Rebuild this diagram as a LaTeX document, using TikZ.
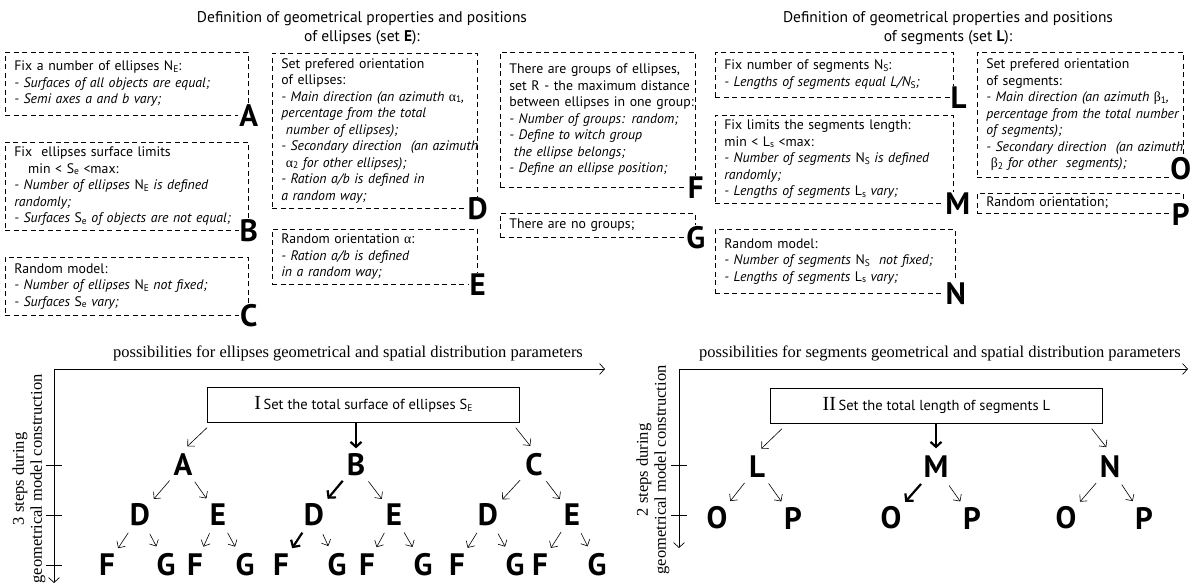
\documentclass[tikz,border=0pt]{standalone}
\usepackage{fontspec}
\setmainfont{PT Sans}
\newfontfamily\timesfont{Liberation Serif}
\usetikzlibrary{arrows.meta,positioning}

\newcommand\boxfont{\fontsize{13.8}{16.5}\selectfont}
\newcommand\lblfont{\fontsize{31}{31}\selectfont\bfseries}
\newcommand\headfont{\fontsize{15.5}{19}\selectfont}
\newcommand\serfont{\timesfont\fontsize{16.5}{18}\selectfont}
\newcommand\lowsc[1]{\raisebox{-0.25ex}{\fontsize{9.5}{9.5}\selectfont\upshape #1}}
\newcommand\grk[1]{{\timesfont\upshape #1}}
\newcommand\boxtext[1]{\begin{tabular}{@{}l@{}}#1\end{tabular}}

\begin{document}
\begin{tikzpicture}[x=1pt, y=-1pt,
  txtbox/.style={draw, dash pattern=on 5pt off 3.5pt, line width=0.7pt, anchor=north west, align=left, inner xsep=9pt, inner ysep=2pt, font=\boxfont},
  boxlbl/.style={fill=white, inner sep=1pt, font=\lblfont},
  treelbl/.style={circle, minimum size=28pt, inner sep=0pt, font=\lblfont},
  thinarr/.style={-{Straight Barb[length=5pt,width=10pt]}, line width=0.6pt, shorten >=6pt, shorten <=6pt},
  thickarr/.style={-{Straight Barb[length=5pt,width=11pt]}, line width=2.2pt, shorten >=6pt, shorten <=6pt},
  axisarr/.style={-{Straight Barb[length=5pt,width=11pt]}, line width=0.7pt},
  mainbox/.style={draw, line width=0.7pt, anchor=north west, minimum height=35pt, inner sep=0pt}]
\useasboundingbox (0,0) rectangle (1192,585);

% Titles of the two sets
\node[align=center, font=\headfont] (ttlE) at (362,28) {Definition of geometrical properties and positions\\of ellipses (set \textbf{E}):};
\node[align=center, font=\headfont] (ttlL) at (948,28) {Definition of geometrical properties and positions\\of segments (set \textbf{L}):};

% Boxes for the ellipses
\node[txtbox, text width=225pt, minimum height=63pt] (boxA) at (5,52) {\boxtext{Fix a number of ellipses N\lowsc{E}:\\\textit{- Surfaces of all objects are equal;}\\\textit{- Semi axes a and b vary;}}};
\node[boxlbl] (lA) at (boxA.south east) {A};
\node[txtbox, text width=225pt, minimum height=88pt] (boxB) at (5,142) {\boxtext{Fix\ \ ellipses surface limits\\\ \ \ min < S\lowsc{e} <max:\\\textit{- Number of ellipses} N\lowsc{E} \textit{is defined}\\\textit{randomly;}\\\textit{- Surfaces} S\lowsc{e} \textit{of objects are not equal;}}};
\node[boxlbl] (lB) at (boxB.south east) {B};
\node[txtbox, text width=225pt, minimum height=58pt] (boxC) at (5,257) {\boxtext{Random model:\\\textit{- Number of ellipses} N\lowsc{E}\ \textit{not fixed;}\\\textit{- Surfaces} S\lowsc{e} \textit{vary;}}};
\node[boxlbl] (lC) at (boxC.south east) {C};

\node[txtbox, text width=187pt, minimum height=155pt] (boxD) at (272,53) {\boxtext{Set prefered orientation\\of ellipses:\\\textit{- Main direction (an azimuth} \grk{α}\lowsc{1}\textit{,}\\\textit{percentage from the total}\\\textit{\ number of ellipses);}\\\textit{- Secondary direction\ \ (an azimuth}\\\textit{\ \grk{α}\lowsc{2} for other ellipses);}\\\textit{- Ration a/b is defined in}\\\textit{a random way;}}};
\node[boxlbl] (lD) at (boxD.south east) {D};
\node[txtbox, text width=187pt, minimum height=55pt] (boxE) at (272,229) {\boxtext{Random orientation \grk{α}:\\\textit{- Ration a/b is defined}\\\textit{in a random way;}}};
\node[boxlbl] (lE) at (boxE.south east) {E};

\node[txtbox, text width=177pt, minimum height=135pt] (boxF) at (500,52) {\boxtext{There are groups of ellipses,\\set R - the maximum distance\\between ellipses in one group:\\\textit{- Number of groups: random;}\\\textit{- Define to witch group}\\\textit{\ the ellipse belongs;}\\\textit{- Define an ellipse position;}}};
\node[boxlbl] (lF) at (boxF.south east) {F};
\node[txtbox, text width=177pt, minimum height=24pt] (boxG) at (500,213) {\boxtext{There are no groups;}};
\node[boxlbl] (lG) at (boxG.south east) {G};

% Boxes for the segments
\node[txtbox, text width=220pt, minimum height=45pt] (boxL) at (715,52) {\boxtext{Fix number of segments N\lowsc{S}:\\\textit{- Lengths of segments equal L/N\lowsc{S};}}};
\node[boxlbl] (lL) at ([xshift=5pt]boxL.south east) {L};
\node[txtbox, text width=220pt, minimum height=88pt] (boxM) at (715,115) {\boxtext{Fix limits the segments length:\\min < L\lowsc{s} <max:\\\textit{- Number of segments} N\lowsc{S} \textit{is defined}\\\textit{randomly;}\\\textit{- Lengths of segments} L\lowsc{s} \textit{vary;}}};
\node[boxlbl] (lM) at ([xshift=4pt]boxM.south east) {M};
\node[txtbox, text width=222pt, minimum height=64pt] (boxN) at (715,229) {\boxtext{Random model:\\\textit{- Number of segments} N\lowsc{S}\ \ \textit{not fixed;}\\\textit{- Lengths of segments} L\lowsc{s} \textit{vary;}}};
\node[boxlbl] (lN) at (boxN.south east) {N};

\node[txtbox, text width=188pt, minimum height=125pt] (boxO) at (977,52) {\boxtext{Set prefered orientation\\of segments:\\\textit{- Main direction (an azimuth} \grk{β}\lowsc{1}\textit{,}\\\textit{percentage from the total number}\\\textit{of segments);}\\\textit{- Secondary direction\ \ (an azimuth}\\\textit{\ \grk{β}\lowsc{2} for other\ \ segments);}}};
\node[boxlbl] (lO) at ([xshift=-3pt,yshift=9pt]boxO.south east) {O};
\node[txtbox, text width=188pt, minimum height=20pt] (boxP) at (977,193) {\boxtext{Random orientation;}};
\node[boxlbl] (lP) at ([xshift=-3pt]boxP.south east) {P};

% Left axes
\coordinate (oE) at (54,369);
\coordinate (xE) at (605,369);
\coordinate (yE) at (54,583);
\draw[axisarr] (oE) -- (xE);
\draw[axisarr] (oE) -- (yE);
\foreach \ty in {465,515,565} \draw[line width=0.7pt] (46,\ty) -- (62,\ty);
\node[font=\serfont] (axE) at (348,353) {possibilities for ellipses geometrical and spatial distribution parameters};
\node[rotate=90, align=center, font=\serfont] (stE) at (29,479) {3 steps during\\geometrical model construction};

% Right axes
\coordinate (oL) at (679,369);
\coordinate (xL) at (1188,369);
\coordinate (yL) at (679,548);
\draw[axisarr] (oL) -- (xL);
\draw[axisarr] (oL) -- (yL);
\foreach \ty in {465,515} \draw[line width=0.7pt] (671,\ty) -- (687,\ty);
\node[font=\serfont] (axL) at (940,353) {possibilities for segments geometrical and spatial distribution parameters};
\node[rotate=90, align=center, font=\serfont] (stL) at (653,470) {2 steps during\\geometrical model construction};

% Tree of the ellipses
\node[mainbox, minimum width=312pt] (boxI) at (207,387) {{\timesfont\fontsize{20}{20}\selectfont I} {\fontsize{14.5}{14.5}\selectfont Set the total surface of ellipses S\lowsc{E}}};
\node[treelbl] (tA) at (183,465) {A};
\node[treelbl] (tB) at (356,465) {B};
\node[treelbl] (tC) at (534,465) {C};
\node[treelbl] (tD1) at (140,515) {D};
\node[treelbl] (tE1) at (218,515) {E};
\node[treelbl] (tD2) at (314,515) {D};
\node[treelbl] (tE2) at (394,515) {E};
\node[treelbl] (tD3) at (488,515) {D};
\node[treelbl] (tE3) at (572,515) {E};
\node[treelbl] (tF1) at (107,565) {F};
\node[treelbl] (tG1) at (166,565) {G};
\node[treelbl] (tF2) at (195,565) {F};
\node[treelbl] (tG2) at (245,565) {G};
\node[treelbl] (tF3) at (281,565) {F};
\node[treelbl] (tG3) at (337,565) {G};
\node[treelbl] (tF4) at (367,565) {F};
\node[treelbl] (tG4) at (423,565) {G};
\node[treelbl] (tF5) at (457,565) {F};
\node[treelbl] (tG5) at (515,565) {G};
\node[treelbl] (tF6) at (540,565) {F};
\node[treelbl] (tG6) at (597,565) {G};

\draw[thinarr, shorten <=0pt] ([yshift=-5pt]boxI.south west) -- (tA.north);
\draw[thickarr, shorten <=0pt, shorten >=2pt] (boxI.south -| tB) -- (tB.north);
\draw[thinarr, shorten <=0pt] ([xshift=-4pt,yshift=-5pt]boxI.south east) -- (tC.north);
\draw[thinarr] (tA) -- (tD1);
\draw[thinarr] (tA) -- (tE1);
\draw[thickarr] (tB) -- (tD2);
\draw[thinarr] (tB) -- (tE2);
\draw[thinarr] (tC) -- (tD3);
\draw[thinarr] (tC) -- (tE3);
\draw[thinarr] (tD1) -- (tF1);
\draw[thinarr] (tD1) -- (tG1);
\draw[thinarr] (tE1) -- (tF2);
\draw[thinarr] (tE1) -- (tG2);
\draw[thickarr] (tD2) -- (tF3);
\draw[thinarr] (tD2) -- (tG3);
\draw[thinarr] (tE2) -- (tF4);
\draw[thinarr] (tE2) -- (tG4);
\draw[thinarr] (tD3) -- (tF5);
\draw[thinarr] (tD3) -- (tG5);
\draw[thinarr] (tE3) -- (tF6);
\draw[thinarr] (tE3) -- (tG6);

% Tree of the segments
\node[mainbox, minimum width=332pt] (boxII) at (770,388) {{\timesfont\fontsize{20}{20}\selectfont II} {\fontsize{14.5}{14.5}\selectfont Set the total length of segments L}};
\node[treelbl] (tL) at (757,467) {L};
\node[treelbl] (tM) at (936,467) {M};
\node[treelbl] (tN) at (1110,467) {N};
\node[treelbl] (tO1) at (717,518) {O};
\node[treelbl] (tP1) at (793,518) {P};
\node[treelbl] (tO2) at (891,518) {O};
\node[treelbl] (tP2) at (972,518) {P};
\node[treelbl] (tO3) at (1066,518) {O};
\node[treelbl] (tP3) at (1144,518) {P};

\draw[thinarr, shorten <=0pt] ([xshift=12pt,yshift=-5pt]boxII.south west) -- (tL.north);
\draw[thickarr, shorten <=0pt, shorten >=2pt] (boxII.south -| tM) -- (tM.north);
\draw[thinarr, shorten <=0pt] ([xshift=-11pt,yshift=-5pt]boxII.south east) -- (tN.north);
\draw[thinarr] (tL) -- (tO1);
\draw[thinarr] (tL) -- (tP1);
\draw[thickarr] (tM) -- (tO2);
\draw[thinarr] (tM) -- (tP2);
\draw[thinarr] (tN) -- (tO3);
\draw[thinarr] (tN) -- (tP3);
\end{tikzpicture}
\end{document}
